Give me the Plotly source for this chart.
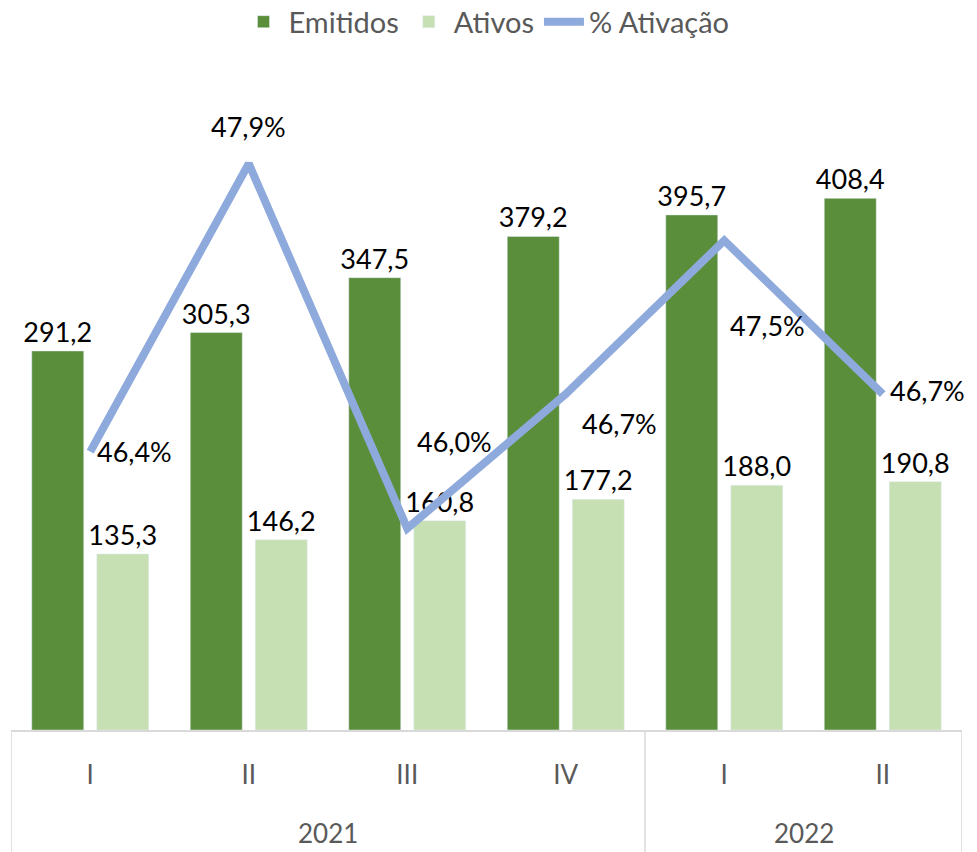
import plotly.graph_objects as go

years = ["2021", "2021", "2021", "2021", "2022", "2022"]
quarters = ["I", "II", "III", "IV", "I", "II"]
emitidos = [291.2, 305.3, 347.5, 379.2, 395.7, 408.4]
ativos = [135.3, 146.2, 160.8, 177.2, 188.0, 190.8]
ativacao = [46.4, 47.9, 46.0, 46.7, 47.5, 46.7]

# label offsets (px) for the % labels: (xshift, yshift, xanchor)
pct_offsets = [(5, 0, "left"), (0, 37, "center"), (8, 87, "left"),
               (14, -29, "left"), (4, -85, "left"), (5, 4, "left")]

FONT = "Lato, Carlito, Calibri, sans-serif"
DARK = "#5B8E3B"
LIGHT = "#C6E0B4"
BLUE = "#8EA9DB"
GRAY = "#595959"
LINE = "#D9D9D9"

cats = [f"{y}-{q}" for y, q in zip(years, quarters)]

fig = go.Figure()
fig.add_trace(go.Bar(x=cats, y=emitidos, name="Emitidos", marker_color=DARK,
                     texttemplate="%{y:.1f}", textposition="outside", constraintext="none",
                     textfont=dict(size=27, color="black", family=FONT),
                     cliponaxis=False))
fig.add_trace(go.Bar(x=cats, y=ativos, name="Ativos", marker_color=LIGHT,
                     texttemplate="%{y:.1f}", textposition="outside", constraintext="none",
                     textfont=dict(size=27, color="black", family=FONT),
                     cliponaxis=False))
fig.add_trace(go.Scatter(x=cats, y=ativacao, name="% Ativação", yaxis="y2",
                         mode="lines", line=dict(color=BLUE, width=8),
                         cliponaxis=False))

for i, (v, (dx, dy, xa)) in enumerate(zip(ativacao, pct_offsets)):
    fig.add_annotation(x=i, y=v, xref="x", yref="y2", text=f"{v:.1f}%".replace(".", ","),
                       showarrow=False, xshift=dx, yshift=dy, xanchor=xa, yanchor="middle",
                       font=dict(size=27, color="black", family=FONT))

# year group labels and dividers
groups = []
for i, y in enumerate(years):
    if not groups or groups[-1][0] != y:
        groups.append([y, i, i])
    else:
        groups[-1][2] = i
for y, a, b in groups:
    fig.add_annotation(x=(a + b) / 2, y=0, xref="x", yref="paper", text=y, showarrow=False,
                       yshift=-103, yanchor="middle",
                       font=dict(size=26, color=GRAY, family=FONT))
bounds = [groups[0][1] - 0.5] + [b + 0.5 for _, _, b in groups]
for xb in bounds:
    fig.add_shape(type="line", xref="x", yref="paper", x0=xb, x1=xb, y0=0, y1=-0.2,
                  line=dict(color=LINE, width=1.5), layer="above")

fig.update_layout(
    width=977, height=852,
    margin=dict(l=11, r=15, t=60, b=122, autoexpand=False),
    plot_bgcolor="white", paper_bgcolor="white",
    separators=",.",
    barmode="group", bargap=0.18, bargroupgap=0.2,
    font=dict(family=FONT, color=GRAY, size=26),
    legend=dict(orientation="h", x=0.5, xanchor="center", y=1.057, yanchor="middle",
                font=dict(size=29, color=GRAY, family=FONT), itemwidth=40,
                tracegroupgap=0),
    xaxis=dict(type="category", tickvals=cats, ticktext=quarters, range=[-0.5, len(cats) - 0.5],
               showline=True, linecolor=LINE, linewidth=1.5,
               tickfont=dict(size=26, color=GRAY, family=FONT),
               ticks="outside", ticklen=21, tickcolor="rgba(0,0,0,0)", automargin=False),
    yaxis=dict(range=[0, 514.7], visible=False, showgrid=False),
    yaxis2=dict(range=[44.95, 48.44], overlaying="y", visible=False, showgrid=False),
)

fig.write_html("out.html", config={"displayModeBar": False},
               post_script="document.body.style.margin='0';document.body.style.overflow='hidden';")
